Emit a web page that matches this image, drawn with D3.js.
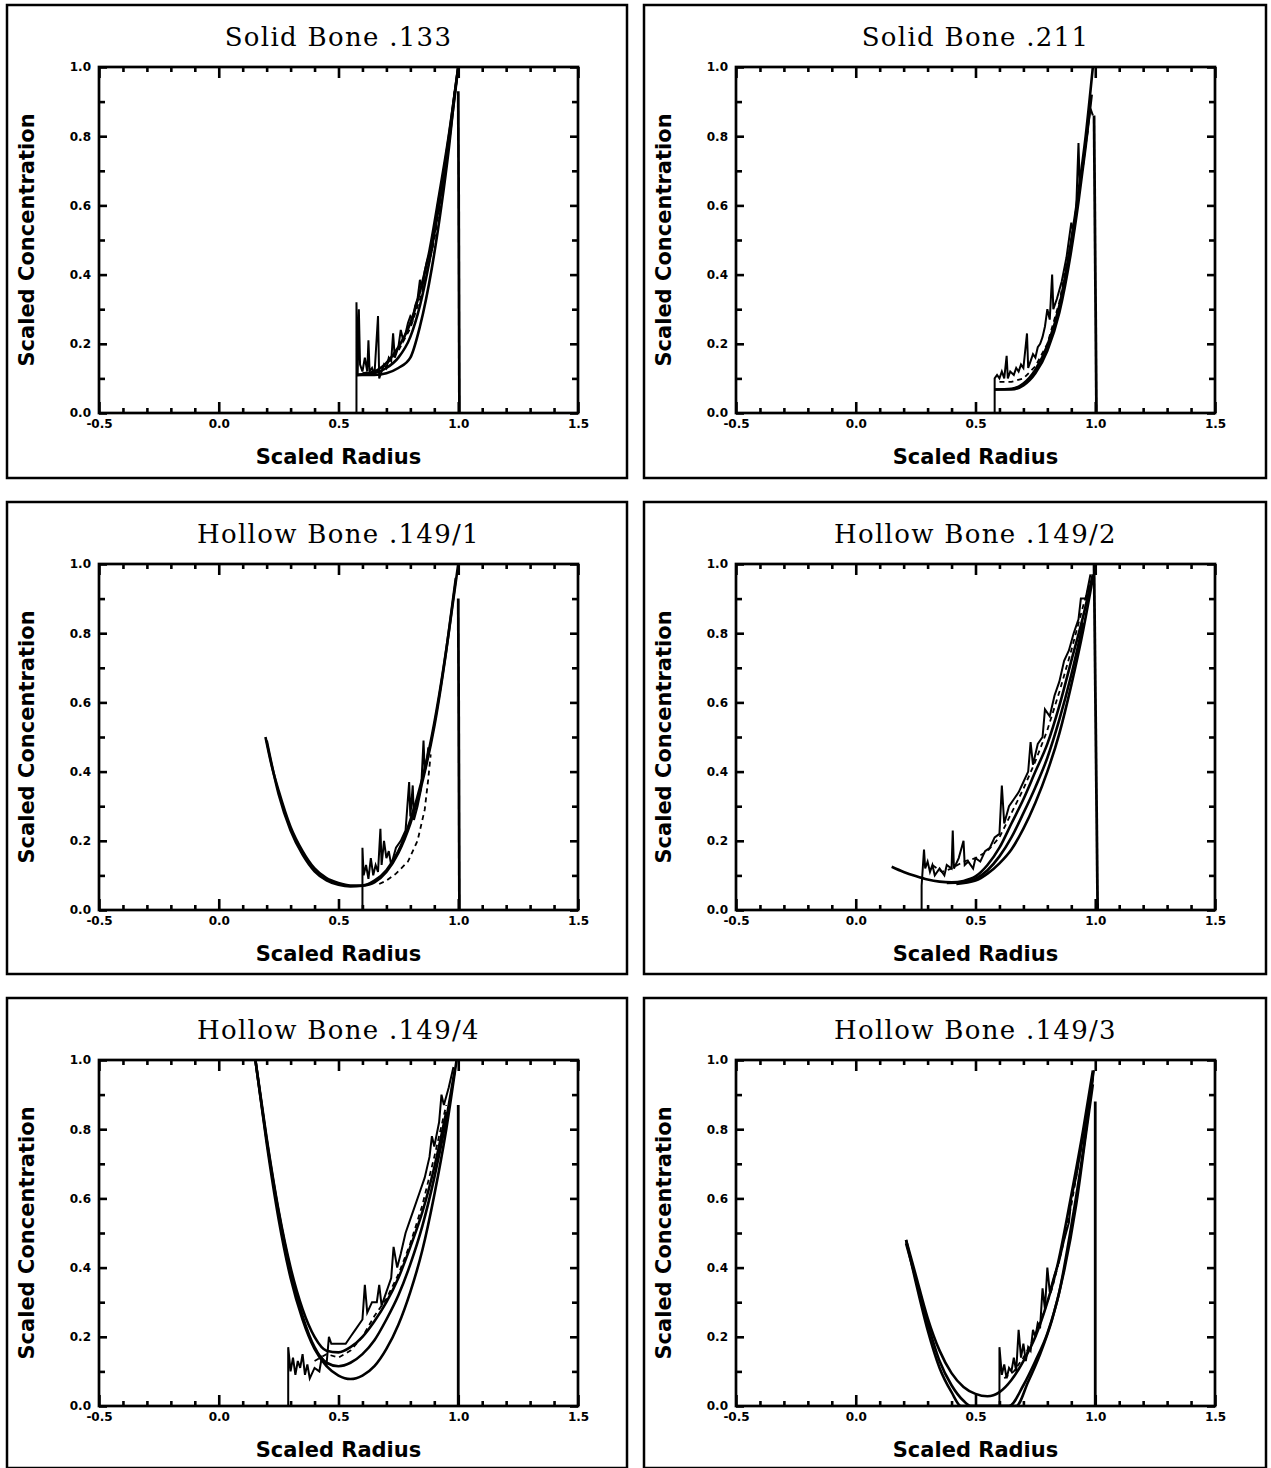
<!DOCTYPE html>
<html>
<head>
<meta charset="utf-8">
<script src="https://cdn.jsdelivr.net/npm/d3@7"></script>
<style>
  body { margin: 0; background: #fff; }
  .title { font-family: "DejaVu Serif", serif; font-size: 26px; letter-spacing: 1.3px; }
  .axis_title { font-family: "DejaVu Sans", sans-serif; font-size: 21px; font-weight: bold; }
  .tick text { font-family: "DejaVu Sans", sans-serif; font-size: 12px; font-weight: bold; }
</style>
</head>
<body>
<div id="sheet"></div>
<script>

// axis ticks shared by all six plots
var xMajorTicks = [-0.5, 0.0, 0.5, 1.0, 1.5];
var xMinorTicks = [-0.4, -0.3, -0.2, -0.1, 0.1, 0.2, 0.3, 0.4, 0.6, 0.7, 0.8, 0.9, 1.1, 1.2, 1.3, 1.4];
var yMajorTicks = [0.0, 0.2, 0.4, 0.6, 0.8, 1.0];
var yMinorTicks = [0.1, 0.3, 0.5, 0.7, 0.9];

var panelTitles = ["Solid Bone .133", "Solid Bone .211", "Hollow Bone .149/1",
                   "Hollow Bone .149/2", "Hollow Bone .149/4", "Hollow Bone .149/3"];
var xLabel = "Scaled Radius";
var yLabel = "Scaled Concentration";

// Solid Bone .133
var solid133Fits = [
  [[0.575,0.11],[0.65,0.11],[0.7,0.115],[0.75,0.13],[0.8,0.16],[0.84,0.25],[0.89,0.42],[0.93,0.6],[0.96,0.76],[0.99,0.95],[1.0,1.0]],
  [[0.575,0.11],[0.65,0.115],[0.7,0.13],[0.75,0.16],[0.8,0.22],[0.84,0.31],[0.88,0.44],[0.92,0.6],[0.96,0.78],[1.0,1.0]],
  [[0.575,0.11],[0.65,0.12],[0.7,0.145],[0.75,0.19],[0.8,0.26],[0.84,0.35],[0.88,0.47],[0.92,0.63],[0.96,0.8],[1.0,1.0]]
];
var solid133Data = [[0.575,0.0],[0.575,0.32],[0.58,0.11],[0.585,0.3],[0.59,0.14],[0.6,0.12],[0.61,0.16],[0.62,0.12],
  [0.625,0.21],[0.63,0.12],[0.64,0.13],[0.65,0.11],[0.665,0.28],[0.67,0.1],[0.68,0.12],[0.69,0.14],[0.7,0.13],
  [0.71,0.16],[0.72,0.15],[0.728,0.23],[0.735,0.16],[0.75,0.19],[0.76,0.24],[0.77,0.21],[0.78,0.23],[0.79,0.26],
  [0.8,0.28],[0.81,0.27],[0.82,0.31],[0.83,0.33],[0.84,0.385],[0.85,0.36],[0.86,0.41],[0.87,0.44],[0.88,0.46],
  [0.89,0.47],[0.9,0.53],[0.91,0.57],[0.916,0.61],[0.93,0.66],[0.95,0.75],[0.97,0.85],[0.985,0.93]];
var solid133Dash = [[0.6,0.115],[0.65,0.12],[0.7,0.14],[0.75,0.18],[0.8,0.245],[0.85,0.35],[0.9,0.5],[0.94,0.67],[0.97,0.84]];
var solid133Edge = [[1.0,0.93],[1.005,0.0]];

// Solid Bone .211
var solid211Fits = [
  [[0.58,0.068],[0.65,0.07],[0.7,0.085],[0.75,0.125],[0.8,0.195],[0.85,0.31],[0.9,0.5],[0.93,0.64],[0.96,0.8],[0.99,1.0]],
  [[0.58,0.068],[0.65,0.068],[0.7,0.08],[0.75,0.115],[0.8,0.18],[0.85,0.29],[0.9,0.47],[0.93,0.61],[0.96,0.77],[0.985,0.92]]
];
var solid211Data = [[0.58,0.0],[0.58,0.1],[0.59,0.11],[0.6,0.1],[0.61,0.12],[0.62,0.1],[0.63,0.165],[0.635,0.1],
  [0.645,0.12],[0.66,0.11],[0.67,0.13],[0.68,0.12],[0.69,0.14],[0.7,0.13],[0.715,0.23],[0.72,0.13],[0.73,0.15],
  [0.74,0.17],[0.75,0.16],[0.76,0.19],[0.77,0.2],[0.78,0.22],[0.79,0.25],[0.8,0.3],[0.81,0.27],[0.82,0.4],
  [0.825,0.3],[0.84,0.33],[0.86,0.38],[0.88,0.45],[0.9,0.55],[0.91,0.52],[0.92,0.58],[0.93,0.78],[0.935,0.66],
  [0.95,0.72],[0.96,0.78],[0.97,0.83],[0.98,0.88],[0.99,0.86]];
var solid211Dash = [[0.6,0.09],[0.65,0.09],[0.7,0.1],[0.75,0.135],[0.8,0.2],[0.85,0.32],[0.9,0.5],[0.94,0.68],[0.97,0.82]];
var solid211Edge = [[0.995,0.86],[1.005,0.0]];

// Hollow Bone .149/1
var hollow1Fits = [
  [[0.195,0.5],[0.22,0.42],[0.25,0.345],[0.3,0.24],[0.35,0.17],[0.4,0.12],[0.45,0.092],[0.5,0.078],[0.55,0.071],
   [0.6,0.071],[0.65,0.085],[0.7,0.115],[0.75,0.17],[0.8,0.26],[0.85,0.38],[0.88,0.47],[0.92,0.62],[0.96,0.8],[1.0,1.0]],
  [[0.2,0.49],[0.25,0.335],[0.3,0.23],[0.35,0.16],[0.4,0.112],[0.45,0.086],[0.5,0.073],[0.55,0.068],[0.6,0.07],
   [0.65,0.08],[0.7,0.11],[0.75,0.165],[0.8,0.25],[0.85,0.37],[0.9,0.53],[0.95,0.75],[0.99,0.96]]
];
var hollow1Data = [[0.6,0.0],[0.6,0.18],[0.605,0.1],[0.615,0.13],[0.625,0.09],[0.635,0.15],[0.645,0.1],[0.655,0.13],
  [0.665,0.11],[0.675,0.235],[0.68,0.13],[0.69,0.2],[0.7,0.15],[0.71,0.17],[0.72,0.13],[0.74,0.18],[0.76,0.2],
  [0.78,0.23],[0.795,0.37],[0.8,0.27],[0.81,0.36],[0.815,0.26],[0.83,0.3],[0.845,0.35],[0.855,0.49],[0.86,0.4],
  [0.87,0.44],[0.875,0.47]];
var hollow1Dash = [[0.67,0.075],[0.7,0.085],[0.74,0.105],[0.79,0.14],[0.83,0.2],[0.86,0.29],[0.875,0.38],[0.885,0.45]];
var hollow1Edge = [[1.0,0.9],[1.005,0.0]];

// Hollow Bone .149/2
var hollow2Fits = [
  [[0.15,0.125],[0.2,0.11],[0.25,0.098],[0.3,0.088],[0.35,0.082],[0.4,0.08],[0.45,0.084],[0.5,0.097],[0.55,0.13],
   [0.6,0.18],[0.65,0.25],[0.7,0.32],[0.75,0.4],[0.8,0.48],[0.85,0.59],[0.9,0.72],[0.95,0.85],[0.99,0.97]],
  [[0.42,0.075],[0.5,0.085],[0.55,0.105],[0.6,0.135],[0.65,0.175],[0.7,0.235],[0.75,0.31],[0.8,0.4],[0.85,0.51],
   [0.9,0.65],[0.95,0.81],[0.99,0.96]],
  [[0.38,0.078],[0.45,0.08],[0.5,0.09],[0.55,0.115],[0.6,0.155],[0.65,0.21],[0.7,0.28],[0.75,0.355],[0.8,0.44],
   [0.85,0.55],[0.9,0.68],[0.95,0.83]]
];
var hollow2Data = [[0.275,0.0],[0.275,0.07],[0.285,0.175],[0.29,0.12],[0.3,0.14],[0.31,0.11],[0.32,0.13],[0.33,0.1],
  [0.35,0.12],[0.37,0.1],[0.38,0.13],[0.4,0.12],[0.405,0.23],[0.41,0.12],[0.43,0.15],[0.45,0.2],[0.455,0.13],
  [0.47,0.14],[0.49,0.12],[0.5,0.15],[0.52,0.14],[0.54,0.17],[0.56,0.18],[0.58,0.21],[0.6,0.22],[0.61,0.36],
  [0.62,0.25],[0.64,0.3],[0.66,0.32],[0.68,0.34],[0.7,0.37],[0.72,0.4],[0.73,0.485],[0.74,0.42],[0.76,0.48],
  [0.78,0.5],[0.79,0.58],[0.81,0.56],[0.83,0.62],[0.85,0.66],[0.87,0.72],[0.89,0.75],[0.91,0.8],[0.93,0.84],
  [0.94,0.9],[0.96,0.9],[0.98,0.97]];
var hollow2Dash = [[0.32,0.13],[0.36,0.11],[0.4,0.12],[0.45,0.14],[0.5,0.15],[0.55,0.17],[0.6,0.21],[0.65,0.28],
  [0.7,0.35],[0.75,0.43],[0.8,0.52],[0.85,0.63],[0.9,0.75],[0.95,0.88],[0.98,0.95]];
var hollow2Edge = [[0.995,1.0],[1.01,0.0]];

// Hollow Bone .149/4
var hollow4Fits = [
  [[0.153,1.0],[0.2,0.76],[0.25,0.54],[0.3,0.37],[0.35,0.25],[0.4,0.165],[0.45,0.115],[0.5,0.088],[0.55,0.078],
   [0.6,0.088],[0.65,0.115],[0.7,0.165],[0.75,0.235],[0.8,0.33],[0.85,0.45],[0.9,0.61],[0.95,0.8],[0.993,1.0]],
  [[0.153,1.0],[0.2,0.77],[0.25,0.56],[0.3,0.39],[0.35,0.26],[0.4,0.17],[0.45,0.125],[0.5,0.115],[0.55,0.125],
   [0.6,0.15],[0.65,0.19],[0.7,0.25],[0.75,0.32],[0.8,0.41],[0.85,0.52],[0.9,0.66],[0.95,0.83],[0.985,0.97]],
  [[0.153,1.0],[0.2,0.775],[0.25,0.565],[0.3,0.4],[0.35,0.28],[0.4,0.2],[0.45,0.16],[0.5,0.155],[0.55,0.17],
   [0.6,0.2],[0.65,0.245],[0.7,0.3],[0.75,0.37],[0.8,0.46],[0.85,0.56],[0.9,0.69],[0.95,0.85]]
];
var hollow4Data = [[0.29,0.0],[0.29,0.17],[0.3,0.1],[0.31,0.14],[0.32,0.09],[0.33,0.13],[0.34,0.11],[0.35,0.15],
  [0.36,0.09],[0.37,0.12],[0.38,0.08],[0.4,0.11],[0.42,0.1],[0.43,0.14],[0.45,0.12],[0.46,0.2],[0.47,0.18],
  [0.5,0.18],[0.53,0.18],[0.55,0.2],[0.57,0.22],[0.6,0.25],[0.61,0.35],[0.62,0.27],[0.64,0.3],[0.66,0.3],
  [0.67,0.35],[0.68,0.29],[0.7,0.33],[0.72,0.37],[0.73,0.46],[0.745,0.4],[0.76,0.44],[0.78,0.5],[0.8,0.54],
  [0.82,0.58],[0.84,0.62],[0.86,0.66],[0.88,0.72],[0.89,0.78],[0.9,0.75],[0.92,0.82],[0.93,0.9],[0.94,0.87],
  [0.96,0.92],[0.98,0.98]];
var hollow4Dash = [[0.4,0.13],[0.45,0.15],[0.5,0.14],[0.55,0.16],[0.6,0.2],[0.65,0.26],[0.7,0.31],[0.75,0.38],
  [0.8,0.47],[0.85,0.58],[0.9,0.72],[0.95,0.87]];
var hollow4Edge = [[1.0,0.87],[1.0,0.0]];

// Hollow Bone .149/3
var hollow3Fits = [
  [[0.21,0.48],[0.25,0.38],[0.3,0.255],[0.35,0.16],[0.4,0.095],[0.45,0.055],[0.5,0.035],[0.55,0.028],[0.6,0.04],
   [0.65,0.075],[0.7,0.13],[0.75,0.2],[0.8,0.3],[0.84,0.4],[0.9,0.61],[0.95,0.8],[0.99,0.97]],
  [[0.21,0.48],[0.25,0.36],[0.3,0.22],[0.35,0.11],[0.4,0.04],[0.44,0.0],[0.64,0.0],[0.7,0.06],[0.75,0.13],
   [0.8,0.21],[0.85,0.33],[0.9,0.52],[0.95,0.74],[0.99,0.95]],
  [[0.21,0.47],[0.25,0.37],[0.3,0.24],[0.35,0.13],[0.4,0.06],[0.45,0.015],[0.48,0.0],[0.67,0.0],[0.72,0.07],
   [0.77,0.15],[0.82,0.25],[0.87,0.39],[0.92,0.58],[0.96,0.78],[0.99,0.93]]
];
var hollow3Data = [[0.6,0.0],[0.6,0.17],[0.61,0.09],[0.62,0.12],[0.63,0.08],[0.64,0.11],[0.65,0.1],[0.66,0.14],
  [0.67,0.1],[0.68,0.22],[0.69,0.14],[0.7,0.18],[0.71,0.13],[0.72,0.17],[0.73,0.16],[0.74,0.22],[0.75,0.2],
  [0.76,0.24],[0.77,0.23],[0.78,0.34],[0.79,0.28],[0.8,0.4],[0.81,0.33],[0.83,0.38],[0.85,0.42],[0.87,0.48],
  [0.89,0.53],[0.9,0.6],[0.92,0.66],[0.94,0.74],[0.96,0.82],[0.98,0.9],[0.995,0.97]];
var hollow3Dash = [[0.62,0.08],[0.66,0.1],[0.7,0.14],[0.74,0.19],[0.78,0.26],[0.82,0.34],[0.86,0.45],[0.9,0.58],
  [0.94,0.74],[0.97,0.87]];
var hollow3Edge = [[1.0,0.88],[1.0,0.0]];

window.onload = function () {

  // panels in reading order, left to right then top to bottom
  var panels = [
    {fits: solid133Fits, data: solid133Data, dash: solid133Dash, edge: solid133Edge},
    {fits: solid211Fits, data: solid211Data, dash: solid211Dash, edge: solid211Edge},
    {fits: hollow1Fits, data: hollow1Data, dash: hollow1Dash, edge: hollow1Edge},
    {fits: hollow2Fits, data: hollow2Data, dash: hollow2Dash, edge: hollow2Edge},
    {fits: hollow4Fits, data: hollow4Data, dash: hollow4Dash, edge: hollow4Edge},
    {fits: hollow3Fits, data: hollow3Data, dash: hollow3Dash, edge: hollow3Edge}
  ];

  var svg = d3.select("#sheet")
              .append("svg")
                .attr("width", 1271)
                .attr("height", 1468);

  svg.append("rect")
     .attr("width", 1271)
     .attr("height", 1468)
     .attr("fill", "#fff");

  // frame positions of the 3 x 2 grid
  var frameX = [7, 644];
  var frameW = [620, 622];
  var frameY = [5, 502, 998];
  var frameH = [473, 472, 470];

  panels.forEach(function (p, i) {
    p.title = panelTitles[i];
    draw_panel(svg, p, i, frameX[i % 2], frameY[Math.floor(i / 2)],
               frameW[i % 2], frameH[Math.floor(i / 2)]);
  });
};

function draw_panel(svg, p, i, fx, fy, fw, fh) {

  var margin = {top: 62, left: 92};
  var width = 479;
  var height = 346;

  // outer frame
  svg.append("rect")
     .attr("x", fx)
     .attr("y", fy)
     .attr("width", fw)
     .attr("height", fh)
     .attr("fill", "none")
     .attr("stroke", "#000")
     .attr("stroke-width", 2.5);

  var g = svg.append("g")
             .attr("transform", "translate(" + (fx + margin.left) + "," + (fy + margin.top) + ")");

  var x = d3.scaleLinear().domain([-0.5, 1.5]).range([0, width]);
  var y = d3.scaleLinear().domain([0, 1]).range([height, 0]);

  // clip curves to the plot box
  g.append("clipPath")
   .attr("id", "clip" + i)
   .append("rect")
     .attr("width", width)
     .attr("height", height);

  var fmt = function (d) { return d.toFixed(1); };

  function style_axis(a) {
    a.select(".domain").remove();
    a.selectAll(".tick line").attr("stroke", "#000").attr("stroke-width", 2.6);
    a.selectAll(".tick text").attr("fill", "#000");
  }

  // ticks point inwards on all four sides
  g.append("g").attr("transform", "translate(0," + height + ")")
   .call(d3.axisBottom(x).tickValues(xMajorTicks).tickSize(-11).tickPadding(6).tickFormat(fmt))
   .call(style_axis);
  g.append("g").attr("transform", "translate(0," + height + ")")
   .call(d3.axisBottom(x).tickValues(xMinorTicks).tickSize(-5).tickFormat(""))
   .call(style_axis);
  g.append("g")
   .call(d3.axisTop(x).tickValues(xMajorTicks).tickSize(-11).tickFormat(""))
   .call(style_axis);
  g.append("g")
   .call(d3.axisTop(x).tickValues(xMinorTicks).tickSize(-5).tickFormat(""))
   .call(style_axis);
  g.append("g")
   .call(d3.axisLeft(y).tickValues(yMajorTicks).tickSize(-8).tickPadding(8).tickFormat(fmt))
   .call(style_axis);
  g.append("g")
   .call(d3.axisLeft(y).tickValues(yMinorTicks).tickSize(-6).tickFormat(""))
   .call(style_axis);
  g.append("g").attr("transform", "translate(" + width + ",0)")
   .call(d3.axisRight(y).tickValues(yMajorTicks).tickSize(-8).tickFormat(""))
   .call(style_axis);
  g.append("g").attr("transform", "translate(" + width + ",0)")
   .call(d3.axisRight(y).tickValues(yMinorTicks).tickSize(-6).tickFormat(""))
   .call(style_axis);

  // plot box
  g.append("rect")
   .attr("width", width)
   .attr("height", height)
   .attr("fill", "none")
   .attr("stroke", "#000")
   .attr("stroke-width", 2.7);

  var smooth = d3.line()
                 .x(function (d) { return x(d[0]); })
                 .y(function (d) { return y(d[1]); })
                 .curve(d3.curveMonotoneX);
  var jagged = d3.line()
                 .x(function (d) { return x(d[0]); })
                 .y(function (d) { return y(d[1]); });

  var plot = g.append("g").attr("clip-path", "url(#clip" + i + ")");

  // model curves
  plot.selectAll(".fit")
      .data(p.fits)
      .enter()
      .append("path")
        .attr("class", "fit")
        .attr("d", smooth)
        .attr("fill", "none")
        .attr("stroke", "#000")
        .attr("stroke-width", 2.6);

  // second measured series, dashed
  plot.append("path")
      .attr("d", jagged(p.dash))
      .attr("fill", "none")
      .attr("stroke", "#000")
      .attr("stroke-width", 1.8)
      .attr("stroke-dasharray", "5,4");

  // measured profile
  plot.append("path")
      .attr("d", jagged(p.data))
      .attr("fill", "none")
      .attr("stroke", "#000")
      .attr("stroke-width", 2)
      .attr("stroke-linejoin", "miter");

  // outer surface drop
  plot.append("path")
      .attr("d", jagged(p.edge))
      .attr("fill", "none")
      .attr("stroke", "#000")
      .attr("stroke-width", 2.8);

  // title
  svg.append("text")
     .attr("class", "title")
     .attr("x", fx + margin.left + width / 2)
     .attr("y", fy + 41)
     .attr("text-anchor", "middle")
     .text(p.title);

  // x axis title
  svg.append("text")
     .attr("class", "axis_title")
     .attr("x", fx + margin.left + width / 2)
     .attr("y", fy + margin.top + height + 51)
     .attr("text-anchor", "middle")
     .text(xLabel);

  // y axis title
  svg.append("text")
     .attr("class", "axis_title")
     .attr("transform", "translate(" + (fx + 27) + "," + (fy + margin.top + height / 2) + ") rotate(-90)")
     .attr("text-anchor", "middle")
     .text(yLabel);
}

</script>
</body>
</html>
